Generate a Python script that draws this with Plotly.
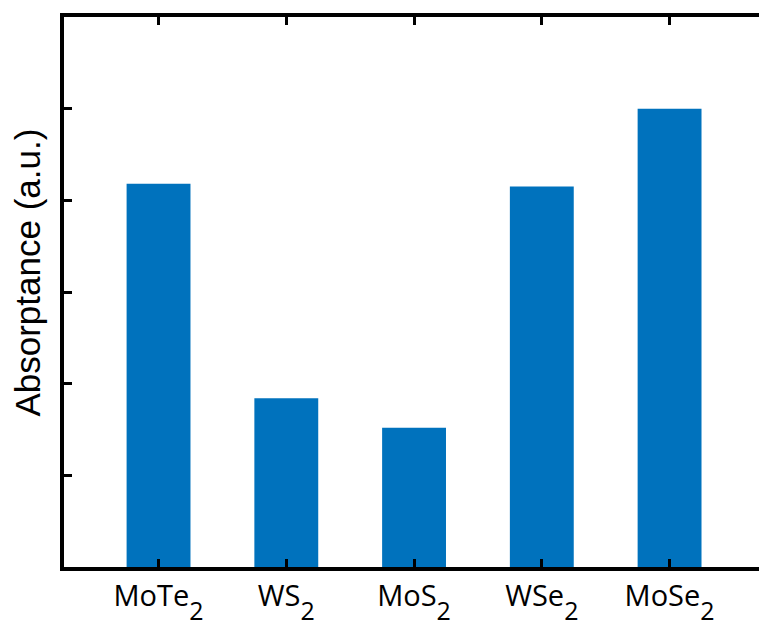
import plotly.graph_objects as go

# Absorptance of five TMD monolayers (arbitrary units)
materials = ["MoTe2", "WS2", "MoS2", "WSe2", "MoSe2"]
formula_stems = ["MoTe", "WS", "MoS", "WSe", "MoSe"]
subscripts = ["2", "2", "2", "2", "2"]
absorptance = [4.18, 1.84, 1.52, 4.15, 5.0]
y_ticks = [1, 2, 3, 4, 5]
y_title = "Absorptance (a.u.)"

# Subscript drawn nearly full-size and dropped well below the baseline
sub_style = "font-size:25px;baseline-shift:-14px"
tick_labels = [
    f'{stem}<span style="{sub_style}">{sub}</span>'
    for stem, sub in zip(formula_stems, subscripts)
]

positions = list(range(len(materials)))
bar_color = "#0072BD"
line_w = 3.5

fig = go.Figure()
fig.add_trace(go.Bar(
    x=positions,
    y=absorptance,
    width=0.5,
    marker=dict(color=bar_color, line=dict(width=0)),
    hovertext=materials,
    showlegend=False,
))

fig.update_layout(
    width=759,
    height=627,
    margin=dict(l=64, r=0, t=17, b=60),
    paper_bgcolor="white",
    plot_bgcolor="white",
    xaxis=dict(
        range=[-0.74, 4.70],
        automargin=False,
        tickmode="array",
        tickvals=positions,
        ticktext=tick_labels,
        ticks="inside",
        ticklen=8,
        tickwidth=3,
        tickcolor="black",
        showline=True,
        linewidth=line_w,
        linecolor="black",
        mirror="ticks",
        showgrid=False,
        zeroline=False,
        tickfont=dict(family="Open Sans", size=29, color="black"),
    ),
    yaxis=dict(
        range=[0, 6],
        automargin=False,
        tickmode="array",
        tickvals=y_ticks,
        showticklabels=False,
        ticks="inside",
        ticklen=8,
        tickwidth=3,
        tickcolor="black",
        showline=True,
        linewidth=line_w,
        linecolor="black",
        showgrid=False,
        zeroline=False,
    ),
    yaxis2=dict(
        range=[0, 6],
        automargin=False,
        overlaying="y",
        side="right",
        anchor="x",
        tickmode="array",
        tickvals=y_ticks,
        showticklabels=False,
        ticks="inside",
        ticklen=5,
        tickwidth=3,
        tickcolor="black",
        showline=False,
        showgrid=False,
        zeroline=False,
    ),
    annotations=[dict(
        text=y_title,
        textangle=-90,
        xref="paper",
        yref="paper",
        x=-0.052,
        y=0.535,
        xanchor="center",
        yanchor="middle",
        showarrow=False,
        font=dict(family="Liberation Sans", size=35, color="black"),
    )],
)

fig.write_html("out.html")
